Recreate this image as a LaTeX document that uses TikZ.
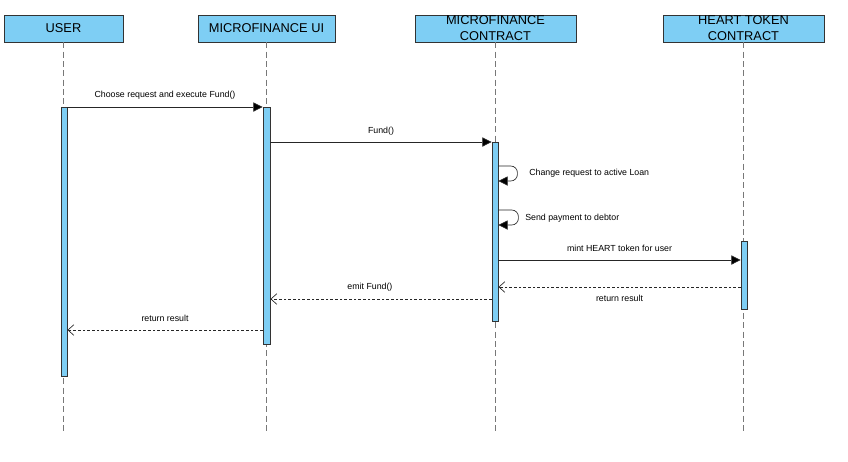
\documentclass[tikz,border=0pt]{standalone}
\usepackage{fontspec}
\setmainfont{Liberation Sans}
\usetikzlibrary{arrows.meta,fit}

\definecolor{lblue}{RGB}{126,206,244}
\definecolor{lgray}{RGB}{120,120,120}

\tikzset{
  head/.style={draw=black!80, fill=lblue, line width=0.6pt, inner sep=0pt,
    minimum width=120.75pt, minimum height=20.25pt, align=center,
    font=\fontsize{9.6}{12}\selectfont},
  life/.style={draw=lgray, line width=0.6pt, dash pattern=on 4.5pt off 2.5pt},
  act/.style={draw=black!80, fill=lblue, line width=0.6pt, inner sep=0pt},
  msg/.style={draw=black!85, line width=0.5pt, -{Triangle[length=7pt,width=7pt,fill=black]}},
  ret/.style={draw=black!85, line width=0.5pt, dash pattern=on 2pt off 1.5pt,
    -{Straight Barb[length=4.5pt,width=8pt]}},
  lbl/.style={font=\fontsize{6.6}{8}\selectfont, inner sep=0.75pt}
}

\begin{document}
\begin{tikzpicture}[x=0.75pt,y=0.75pt,yscale=-1,xscale=1]
\useasboundingbox (0,0) rectangle (848,461);

% Lifeline heads
\node[head, minimum width=89.25pt] (user) at (63.5,28.5) {USER};
\node[head, minimum width=102.75pt] (ui) at (266.5,28.5) {MICROFINANCE UI};
\node[head] (mc) at (495.5,28.5) {MICROFINANCE\\CONTRACT};
\node[head] (heart) at (743.5,28.5) {HEART TOKEN\\CONTRACT};

% Lifelines
\coordinate (bottom) at (0,432);
\draw[life] (user.south) -- (user |- bottom);
\draw[life] (ui.south) -- (ui |- bottom);
\draw[life] (mc.south) -- (mc |- bottom);
\draw[life] (heart.south) -- (heart |- bottom);

% Activation bars
\path (61,107) coordinate (ua1) (67,376) coordinate (ua2);
\path (263,107) coordinate (ia1) (270,344) coordinate (ia2);
\path (492,142) coordinate (ma1) (498,321) coordinate (ma2);
\path (741,241) coordinate (ha1) (747,309) coordinate (ha2);
\node[act, fit=(ua1)(ua2)] (useract) {};
\node[act, fit=(ia1)(ia2)] (uiact) {};
\node[act, fit=(ma1)(ma2)] (mcact) {};
\node[act, fit=(ha1)(ha2)] (heartact) {};

% Message rows
\coordinate (m1) at (0,107);
\coordinate (m2) at (0,142);
\coordinate (m3) at (0,166);
\coordinate (m4) at (0,181);
\coordinate (m5) at (0,210);
\coordinate (m6) at (0,225);
\coordinate (m7) at (0,260);
\coordinate (m8) at (0,287);
\coordinate (m9) at (0,299);
\coordinate (m10) at (0,330);

% Messages
\draw[msg] (useract.east |- m1) -- (uiact.west |- m1)
  node[lbl, midway, above=5pt] {Choose request and execute Fund()};
\draw[msg] (uiact.east |- m2) -- (mcact.west |- m2)
  node[lbl, midway, above=4pt] {Fund()};

% Self calls
\draw[msg, rounded corners=5pt] (mcact.east |- m3) -- ++(19,0) |- (mcact.east |- m4);
\node[lbl, anchor=west] (selfa) at (528,173) {Change request to active Loan};
\draw[msg, rounded corners=5pt] (mcact.east |- m5) -- ++(20,0) |- (mcact.east |- m6);
\node[lbl, anchor=west] (selfb) at (524,218) {Send payment to debtor};

\draw[msg] (mcact.east |- m7) -- (heartact.west |- m7)
  node[lbl, midway, above=5pt] {mint HEART token for user};
\draw[ret] (heartact.west |- m8) -- (mcact.east |- m8)
  node[lbl, midway, below=5pt] {return result};
\draw[ret] (mcact.west |- m9) -- (uiact.east |- m9)
  node[lbl, pos=0.55, above=5pt] {emit Fund()};
\draw[ret] (uiact.west |- m10) -- (useract.east |- m10)
  node[lbl, midway, above=5pt] {return result};

\end{tikzpicture}
\end{document}
